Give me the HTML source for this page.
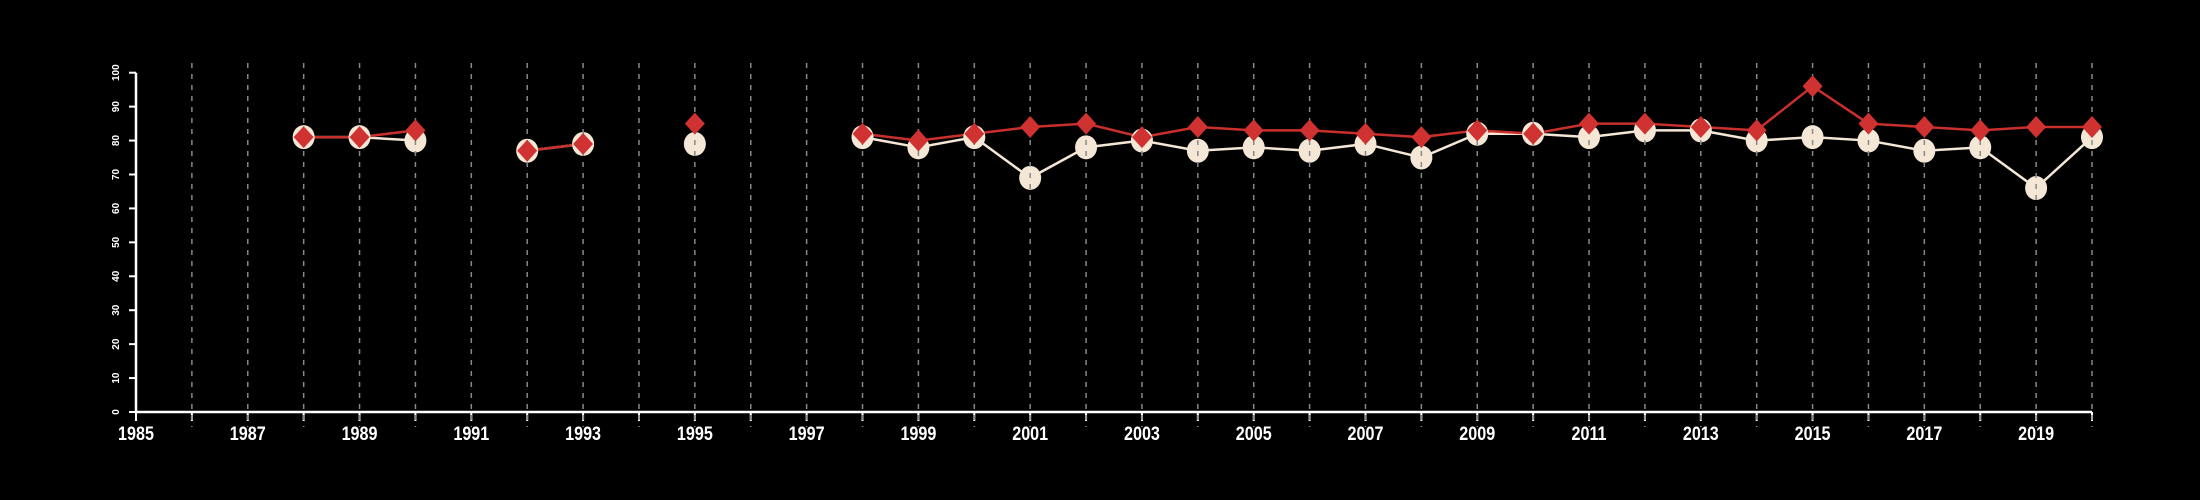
<!DOCTYPE html>
<html><head><meta charset="utf-8"><style>
html,body{margin:0;padding:0;background:#000;width:2200px;height:500px;overflow:hidden}
svg{display:block}
text{font-family:"Liberation Sans",sans-serif;fill:#fff}
</style></head><body>
<svg id="chart" width="2200" height="500" viewBox="0 0 2200 500"></svg>
<script>
const years = [1988,1989,1990,1991,1992,1993,1994,1995,1996,1997,1998,1999,2000,2001,2002,2003,2004,2005,2006,2007,2008,2009,2010,2011,2012,2013,2014,2015,2016,2017,2018,2019,2020];
const whiteSeries = [81,81,80,null,77,79,null,79,null,null,81,78,81,69,78,80,77,78,77,79,75,82,82,81,83,83,80,81,80,77,78,66,81];
const redSeries = [81,81,83,null,77,79,null,85,null,null,82,80,82,84,85,81,84,83,83,82,81,83,82,85,85,84,83,96,85,84,83,84,84];
const yTicks = [0,10,20,30,40,50,60,70,80,90,100];
const xLabels = [1985,1987,1989,1991,1993,1995,1997,1999,2001,2003,2005,2007,2009,2011,2013,2015,2017,2019];

const NS="http://www.w3.org/2000/svg";
const svg=document.getElementById('chart');
const X0=136, X1=2092, Y0=412, Y1=72.7, xmin=1985, xmax=2020;
const xs=v=>X0+(v-xmin)/(xmax-xmin)*(X1-X0);
const ys=v=>Y0-(v/100)*(Y0-Y1);
function mk(tag,attrs,parent){const e=document.createElementNS(NS,tag);for(const k in attrs)e.setAttribute(k,attrs[k]);(parent||svg).appendChild(e);return e;}

// axes
const ax=mk('g',{});


mk('line',{x1:X0,y1:ys(0),x2:X0,y2:ys(100),stroke:'#fff','stroke-width':2.5},ax);
mk('line',{x1:X0,y1:Y0,x2:X1,y2:Y0,stroke:'#fff','stroke-width':2.5},ax);
yTicks.forEach(t=>{
  mk('line',{x1:X0-7,y1:ys(t),x2:X0,y2:ys(t),stroke:'#fff','stroke-width':2},ax);
  const tx=mk('text',{x:0,y:0,'font-size':10,'font-weight':'bold','text-anchor':'middle',transform:`translate(119,${ys(t)}) rotate(-90)`},ax);
  
  
  tx.textContent=t;
});
for(let y=xmin;y<=xmax;y++){
  mk('line',{x1:xs(y),y1:Y0,x2:xs(y),y2:Y0+9,stroke:'#fff','stroke-width':2},ax);
}
xLabels.forEach(l=>{
  const tx=mk('text',{x:0,y:0,'font-size':19,'font-weight':'bold','text-anchor':'middle',transform:`translate(${xs(l)},440) scale(0.85,1)`},ax);
  
  
  tx.textContent=l;
});

function drawLine(vals,color,name){
  let seg=[];
  const flush=()=>{if(seg.length>1){const p=mk('polyline',{points:seg.join(' '),fill:'none',stroke:color,'stroke-width':2.5});
    
    }seg=[];};
  vals.forEach((v,i)=>{if(v==null){flush();}else seg.push(xs(years[i])+','+ys(v));});
  flush();
}
drawLine(whiteSeries,'#f4e7d6','white-series-line');
drawLine(redSeries,'#c9302c','red-series-line');

whiteSeries.forEach((v,i)=>{if(v==null)return;
  const c=mk('ellipse',{cx:xs(years[i]),cy:ys(v),rx:11,ry:12,fill:'#f4e7d6'});
  
  
});

// grid
const g=mk('g',{});


for(let y=xmin+1;y<=xmax;y++){
  mk('line',{x1:xs(y),y1:63,x2:xs(y),y2:427,stroke:'#888','stroke-width':1.5,'stroke-dasharray':'5,6'},g);
}

redSeries.forEach((v,i)=>{if(v==null)return;
  const x=xs(years[i]),y=ys(v);
  const d=mk('polygon',{points:`${x},${y-11} ${x+10},${y} ${x},${y+11} ${x-10},${y}`,fill:'#d03232'});
  
  
});
</script>
</body></html>
